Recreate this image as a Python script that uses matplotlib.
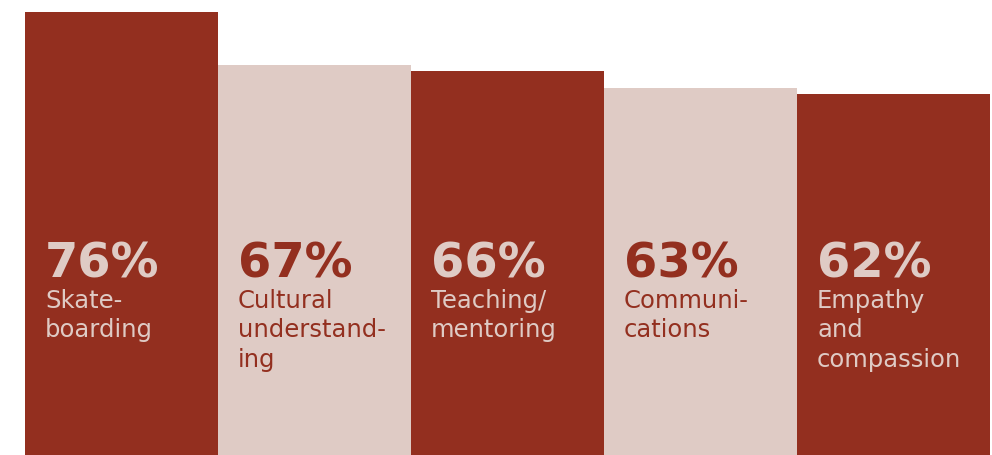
import matplotlib.pyplot as plt

# share of respondents naming each skill
skills = ['Skate-\nboarding', 'Cultural\nunderstand-\ning', 'Teaching/\nmentoring',
          'Communi-\ncations', 'Empathy\nand\ncompassion']
values = [76, 67, 66, 63, 62]

dark = '#932F1F'
light = '#DFCBC5'
bar_colors = [dark, light, dark, light, dark]
text_colors = [light, dark, light, dark, light]

fig = plt.figure(figsize=(9.92, 4.55), dpi=100)
ax = fig.add_axes([25 / 992, -2 / 455, 965 / 992, 457 / 455])

x = range(len(values))
ax.bar(x, values, width=1.0, color=bar_colors, align='center')

ax.set_xlim(-0.5, len(values) - 0.5)
ax.set_ylim(0, 78.05)
ax.axis('off')

for i, (v, lab) in enumerate(zip(values, skills)):
    ax.text(i - 0.5 + 0.104, 1 - 278 / 457, f'{v}%', transform=ax.get_xaxis_transform(),
            ha='left', va='baseline', fontsize=34.5, fontweight='bold',
            color=text_colors[i], family='DejaVu Sans')
    ax.text(i - 0.5 + 0.104, 1 - 289 / 457, lab, transform=ax.get_xaxis_transform(),
            ha='left', va='top', fontsize=17.5, linespacing=1.28,
            color=text_colors[i], family='DejaVu Sans')

fig.savefig('out.png', dpi=100, facecolor='white')
